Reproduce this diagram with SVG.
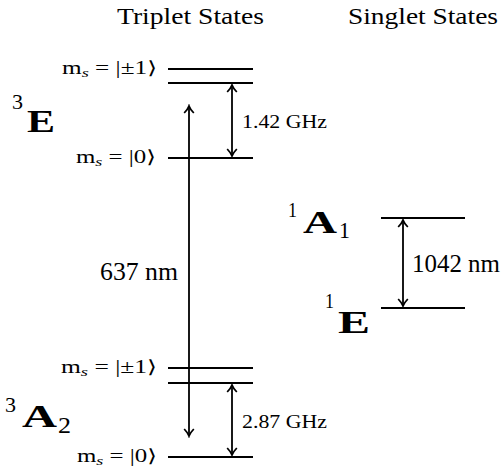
<svg xmlns="http://www.w3.org/2000/svg" width="503" height="468" viewBox="0 0 503 468" font-family="'Liberation Serif', 'DejaVu Serif', serif">
<style>
text { font-family: 'Liberation Serif', 'DejaVu Serif', serif; fill: #000; }
.title { font-size: 24px; }
.ms { font-size: 18px; }
.sub { font-style: italic; font-size: 13px; }
.big { font-size: 32px; font-weight: bold; }
.sup { font-size: 21px; }
.sub2 { font-size: 23px; }
.lab { font-size: 25px; }
.ghz { font-size: 18px; }
.lvl { stroke: #000; stroke-width: 2; fill: none; }
.arr { stroke: #000; stroke-width: 1.8; fill: none; marker-start: url(#ah); marker-end: url(#ah); }
</style>
<defs>
<marker id="ah" viewBox="-8 -6 10 12" markerWidth="10" markerHeight="12" refX="0" refY="0" orient="auto-start-reverse" markerUnits="userSpaceOnUse">
<path d="M-7,-4.8 Q-3,-1 0,0 Q-3,1 -7,4.8" stroke="#000" stroke-width="1.8" fill="none"/>
</marker>
</defs>
<rect width="503" height="468" fill="#fff"/>
<g id="titles">
<text class="title" x="117" y="24" textLength="147" lengthAdjust="spacingAndGlyphs">Triplet States</text>
<text class="title" x="348" y="24" textLength="150" lengthAdjust="spacingAndGlyphs">Singlet States</text>
</g>
<g id="E3">
<text class="sup" x="12" y="109" textLength="11" lengthAdjust="spacingAndGlyphs">3</text>
<text class="big" x="27" y="132" textLength="28" lengthAdjust="spacingAndGlyphs">E</text>
<line class="lvl" x1="168" y1="69" x2="253" y2="69"/>
<line class="lvl" x1="168" y1="83" x2="253" y2="83"/>
<line class="lvl" x1="168" y1="158" x2="253" y2="158"/>
<text class="ms" x="62" y="74" textLength="95" lengthAdjust="spacingAndGlyphs">m<tspan class="sub" dy="3">s</tspan><tspan dy="-3"> = |±1⟩</tspan></text>
<text class="ms" x="76" y="163" textLength="80" lengthAdjust="spacingAndGlyphs">m<tspan class="sub" dy="3">s</tspan><tspan dy="-3"> = |0⟩</tspan></text>
</g>
<g id="A2">
<text class="sup" x="5" y="412" textLength="11" lengthAdjust="spacingAndGlyphs">3</text>
<text class="big" x="22" y="427" textLength="35" lengthAdjust="spacingAndGlyphs">A</text>
<text class="sub2" x="58" y="433" textLength="13" lengthAdjust="spacingAndGlyphs">2</text>
<line class="lvl" x1="168" y1="368" x2="253" y2="368"/>
<line class="lvl" x1="168" y1="383" x2="253" y2="383"/>
<line class="lvl" x1="168" y1="457" x2="253" y2="457"/>
<text class="ms" x="61" y="373" textLength="96" lengthAdjust="spacingAndGlyphs">m<tspan class="sub" dy="3">s</tspan><tspan dy="-3"> = |±1⟩</tspan></text>
<text class="ms" x="77" y="462" textLength="80" lengthAdjust="spacingAndGlyphs">m<tspan class="sub" dy="3">s</tspan><tspan dy="-3"> = |0⟩</tspan></text>
</g>
<g id="A1">
<text class="sup" x="288" y="217" textLength="9" lengthAdjust="spacingAndGlyphs">1</text>
<text class="big" x="303" y="233" textLength="34" lengthAdjust="spacingAndGlyphs">A</text>
<text class="sub2" x="339" y="238" textLength="11" lengthAdjust="spacingAndGlyphs">1</text>
<line class="lvl" x1="381" y1="218" x2="465" y2="218"/>
</g>
<g id="E1">
<text class="sup" x="325" y="308" textLength="9" lengthAdjust="spacingAndGlyphs">1</text>
<text class="big" x="338" y="333" textLength="32" lengthAdjust="spacingAndGlyphs">E</text>
<line class="lvl" x1="381" y1="308" x2="465" y2="308"/>
</g>
<g id="connectors">
<line class="arr" x1="189" y1="106" x2="189" y2="436"/>
<line class="arr" x1="232" y1="85" x2="232" y2="156"/>
<line class="arr" x1="232" y1="385" x2="232" y2="455"/>
<line class="arr" x1="403" y1="220" x2="403" y2="306"/>
<text class="lab" x="100" y="280" textLength="78" lengthAdjust="spacingAndGlyphs">637 nm</text>
<text class="ghz" x="242" y="128" textLength="85" lengthAdjust="spacingAndGlyphs">1.42 GHz</text>
<text class="ghz" x="242" y="428" textLength="85" lengthAdjust="spacingAndGlyphs">2.87 GHz</text>
<text class="lab" x="412" y="272" textLength="88" lengthAdjust="spacingAndGlyphs">1042 nm</text>
</g>
</svg>
